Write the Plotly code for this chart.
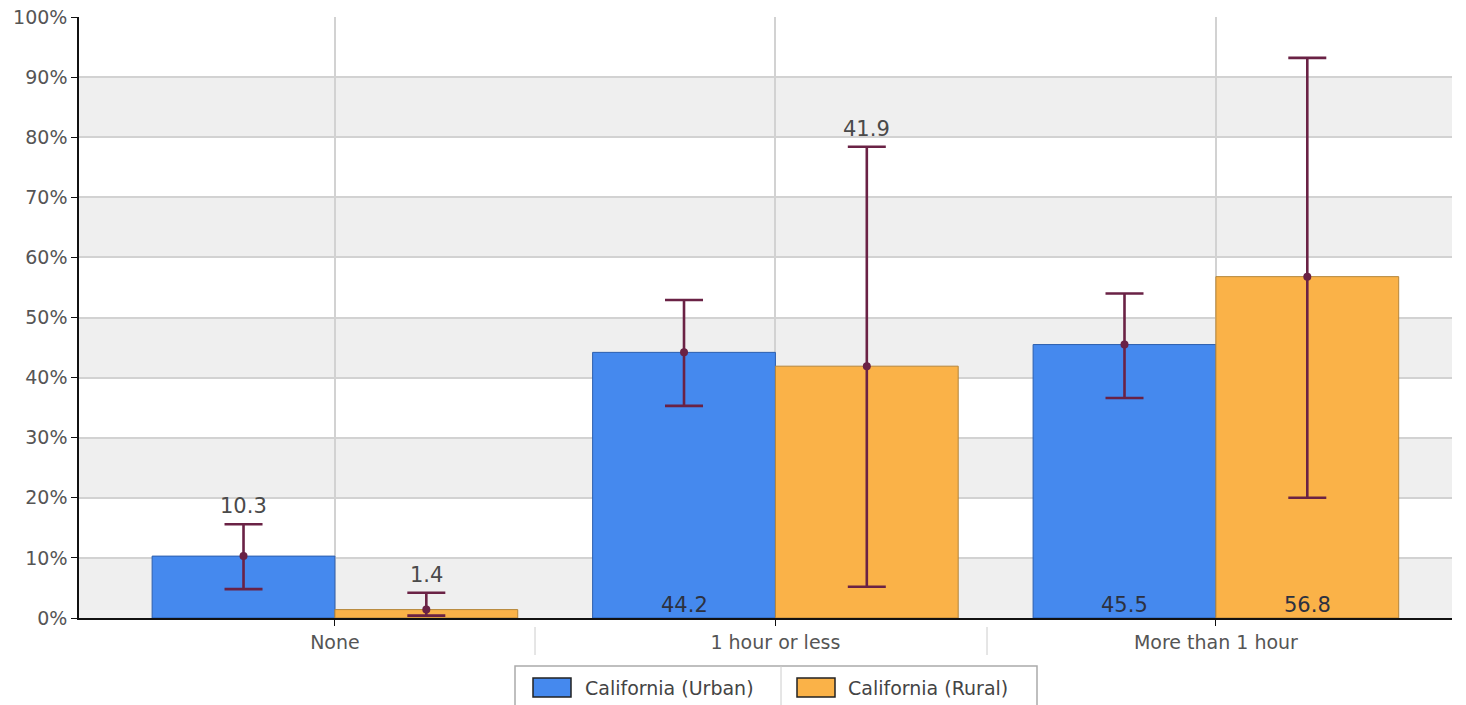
import plotly.graph_objects as go

# ---- data -------------------------------------------------------------
categories = ["None", "1 hour or less", "More than 1 hour"]
series_names = ["California (Urban)", "California (Rural)"]
urban_values = [10.3, 44.2, 45.5]
rural_values = [1.4, 41.9, 56.8]
urban_low = [4.8, 35.3, 36.6]
urban_high = [15.6, 52.9, 54.0]
rural_low = [0.4, 5.2, 20.0]
rural_high = [4.2, 78.4, 93.2]
y_ticks = [0, 10, 20, 30, 40, 50, 60, 70, 80, 90, 100]

# ---- styling ----------------------------------------------------------
W, H = 1466, 705
ML, MR, MT, MB = 79, 14, 17, 87
PW, PH = W - ML - MR, H - MT - MB
FONT = "DejaVu Sans"
BLUE, BLUE_EDGE = "#4589ee", "#2d5fae"
ORANGE, ORANGE_EDGE = "#fab248", "#b5863a"
ERR = "#6a2245"
BAR_W = 0.415
# where each value label sits: above the error bar or at the bar base
urban_label_pos = ["top", "base", "base"]
rural_label_pos = ["top", "top", "base"]


def px_x(p):
    return (p - ML) / PW


def px_y(p):
    return (H - MB - p) / PH


idx = list(range(len(categories)))
urban_x = [i - BAR_W / 2 for i in idx]
rural_x = [i + BAR_W / 2 for i in idx]

fig = go.Figure()

for xs, vals, lo, hi, col, edge, name in [
    (urban_x, urban_values, urban_low, urban_high, BLUE, BLUE_EDGE, series_names[0]),
    (rural_x, rural_values, rural_low, rural_high, ORANGE, ORANGE_EDGE, series_names[1]),
]:
    fig.add_trace(go.Bar(
        x=xs, y=vals, width=BAR_W, name=name,
        marker=dict(color=col, line=dict(color=edge, width=1)),
        showlegend=False, hoverinfo="skip",
    ))
    fig.add_trace(go.Scatter(
        x=xs, y=vals, mode="markers",
        marker=dict(color=ERR, size=8),
        error_y=dict(
            type="data", symmetric=False,
            array=[h - v for h, v in zip(hi, vals)],
            arrayminus=[v - l for v, l in zip(vals, lo)],
            color=ERR, thickness=2.6, width=19,
        ),
        cliponaxis=False,
        showlegend=False, hoverinfo="skip",
    ))

# value labels
annotations = []
for xs, vals, hi, pos in [
    (urban_x, urban_values, urban_high, urban_label_pos),
    (rural_x, rural_values, rural_high, rural_label_pos),
]:
    for x, v, h, p in zip(xs, vals, hi, pos):
        if p == "top":
            annotations.append(dict(x=x, y=h, text=f"{v:.1f}", showarrow=False,
                                    yanchor="bottom", yshift=4,
                                    font=dict(family=FONT, size=21, color="#4a4a4a")))
        else:
            annotations.append(dict(x=x, y=0, text=f"{v:.1f}", showarrow=False,
                                    yanchor="bottom", yshift=-1,
                                    font=dict(family=FONT, size=21, color="#2c3140")))

shapes = []
# alternating horizontal bands
for lo in range(0, 100, 20):
    shapes.append(dict(type="rect", xref="paper", x0=0, x1=1, yref="y", y0=lo, y1=lo + 10,
                       fillcolor="#efefef", line=dict(width=0), layer="below"))
# separators between category labels
for sx in [535, 987]:
    shapes.append(dict(type="line", xref="paper", yref="paper",
                       x0=px_x(sx), x1=px_x(sx), y0=px_y(627), y1=px_y(655),
                       line=dict(color="#cccccc", width=1)))

# legend box
lx0, lx1, ly0, ly1 = 515, 1037, 666, 730
shapes.append(dict(type="rect", xref="paper", yref="paper",
                   x0=px_x(lx0), x1=px_x(lx1), y0=px_y(ly0), y1=px_y(ly1),
                   fillcolor="white", line=dict(color="#aaaaaa", width=1.5)))
shapes.append(dict(type="line", xref="paper", yref="paper",
                   x0=px_x(781), x1=px_x(781), y0=px_y(666), y1=px_y(705),
                   line=dict(color="#cccccc", width=1)))
for sx0, col, name, tx in [(533, BLUE, series_names[0], 583), (797, ORANGE, series_names[1], 846)]:
    shapes.append(dict(type="rect", xref="paper", yref="paper",
                       x0=px_x(sx0), x1=px_x(sx0 + 38), y0=px_y(678), y1=px_y(697),
                       fillcolor=col, line=dict(color="#222222", width=1.5)))
    annotations.append(dict(xref="paper", yref="paper", x=px_x(tx), y=px_y(688),
                            text=name, showarrow=False, xanchor="left", yanchor="middle",
                            font=dict(family=FONT, size=19, color="#444444")))

fig.update_layout(
    width=W, height=H,
    margin=dict(l=ML, r=MR, t=MT, b=MB, autoexpand=False),
    paper_bgcolor="white", plot_bgcolor="white",
    font=dict(family=FONT, size=19, color="#555555"),
    barmode="overlay",
    showlegend=False,
    shapes=shapes,
    annotations=annotations,
    xaxis=dict(
        range=[-0.581, 2.536], automargin=False,
        tickmode="array", tickvals=idx, ticktext=categories,
        showgrid=True, gridcolor="#d2d2d2", gridwidth=2,
        showline=True, linecolor="#111111", linewidth=1.5,
        ticks="outside", ticklen=6, tickcolor="#111111",
        tickfont=dict(family=FONT, size=19, color="#555555"),
        zeroline=False, fixedrange=True,
    ),
    yaxis=dict(
        range=[0, 100], automargin=False,
        tickmode="array", tickvals=y_ticks, ticktext=[f"{t}%" for t in y_ticks],
        showgrid=True, gridcolor="#d2d2d2", gridwidth=2,
        showline=True, linecolor="#111111", linewidth=1.5,
        ticks="outside", ticklen=6, tickcolor="#111111",
        tickfont=dict(family=FONT, size=19, color="#555555"),
        zeroline=False, fixedrange=True,
    ),
)

fig.write_html("out.html", config={"displayModeBar": False})
